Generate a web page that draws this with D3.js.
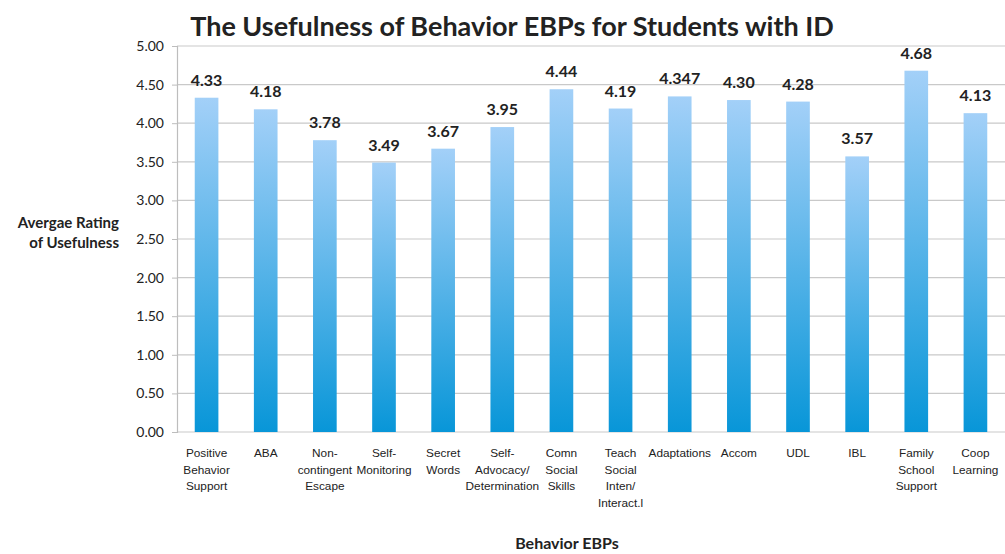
<!DOCTYPE html>
<html>
<head>
<meta charset="utf-8">
<script src="https://cdn.jsdelivr.net/npm/d3@7"></script>
<style>
  body { margin: 0; background: #fff; }
  text { fill: #222; }
</style>
</head>
<body>
<div id="chart"></div>
<script>
/* Usefulness of behavior EBPs - bar chart */

const categories = ["Positive\nBehavior\nSupport", "ABA", "Non-\ncontingent\nEscape", "Self-\nMonitoring",
    "Secret\nWords", "Self-\nAdvocacy/\nDetermination", "Comn\nSocial\nSkills", "Teach\nSocial\nInten/\nInteract.l",
    "Adaptations", "Accom", "UDL", "IBL", "Family\nSchool\nSupport", "Coop\nLearning"];
const values = [4.33, 4.18, 3.78, 3.49, 3.67, 3.95, 4.44, 4.19, 4.347, 4.30, 4.28, 3.57, 4.68, 4.13];
const yTicks = [0, 0.5, 1, 1.5, 2, 2.5, 3, 3.5, 4, 4.5, 5];

const width = 1005, height = 554,
    margin = ({ top: 46, right: 0, bottom: 122, left: 177 });

const svg = d3.select("#chart")
    .append("svg")
    .attr("width", width)
    .attr("height", height);

// gradient for the bars, light on top
const grad = svg.append("defs").append("linearGradient")
    .attr("id", "barGrad")
    .attr("x1", 0).attr("y1", 0).attr("x2", 0).attr("y2", 1);
grad.append("stop").attr("offset", "0%").attr("stop-color", "#a3d0f8");
grad.append("stop").attr("offset", "100%").attr("stop-color", "#0896d8");

let x = d3.scaleBand()
    .domain(d3.range(categories.length))
    .range([margin.left, width - margin.right])
    .paddingInner(0.6)
    .paddingOuter(0.3);

let y = d3.scaleLinear()
    .domain([0, 5])
    .range([height - margin.bottom, margin.top]);

// gridlines
svg.append("g")
    .selectAll("line")
    .data(yTicks)
    .join("line")
    .attr("x1", margin.left)
    .attr("x2", width)
    .attr("y1", d => y(d))
    .attr("y2", d => y(d))
    .attr("stroke", "#c9c9c9")
    .attr("stroke-width", 1.2);

// y axis
let yAxis = svg.append("g")
    .attr("transform", `translate(${margin.left},0)`)
    .call(d3.axisLeft(y).tickValues(yTicks).tickFormat(d3.format(".2f")).tickSize(5).tickPadding(8));
yAxis.select(".domain").attr("stroke", "#bdbdbd").attr("stroke-width", 1.2);
yAxis.selectAll(".tick line").attr("stroke", "#bdbdbd");
yAxis.selectAll(".tick text")
    .attr("font-family", "Lato, 'Open Sans', sans-serif")
    .attr("font-size", 14)
    .attr("fill", "#444");

// bars
svg.append("g")
    .selectAll("rect")
    .data(values)
    .join("rect")
    .attr("x", (d, i) => x(i))
    .attr("y", d => y(d))
    .attr("width", x.bandwidth())
    .attr("height", d => y(0) - y(d))
    .attr("fill", "url(#barGrad)");

// value labels
const fmt = d => {
    let dec = (String(d).split(".")[1] || "").length;
    return d.toFixed(Math.max(2, dec));
};
svg.append("g")
    .selectAll("text")
    .data(values)
    .join("text")
    .attr("x", (d, i) => x(i) + x.bandwidth() / 2)
    .attr("y", d => y(d) - 12)
    .attr("text-anchor", "middle")
    .attr("font-family", "Lato, 'Open Sans', sans-serif")
    .attr("font-weight", "bold")
    .attr("font-size", 16)
    .text(fmt);

// category labels (multi line)
let catG = svg.append("g")
    .selectAll("text")
    .data(categories)
    .join("text")
    .attr("text-anchor", "middle")
    .attr("font-family", "'Liberation Sans', Arial, sans-serif")
    .attr("font-size", 11.8)
    .attr("fill", "#333")
    .attr("transform", (d, i) => `translate(${x(i) + x.bandwidth() / 2},${height - margin.bottom + 25})`);
catG.selectAll("tspan")
    .data(d => d.split("\n"))
    .join("tspan")
    .attr("x", 0)
    .attr("dy", (d, i) => i === 0 ? 0 : 16.5)
    .text(d => d);

// title
svg.append("text")
    .attr("x", 512)
    .attr("y", 36)
    .attr("text-anchor", "middle")
    .attr("font-family", "Lato, 'Open Sans', sans-serif")
    .attr("font-weight", "bold")
    .attr("font-size", 27)
    .text("The Usefulness of Behavior EBPs for Students with ID");

// y label
svg.append("text")
    .attr("x", 119)
    .attr("y", 228)
    .attr("text-anchor", "end")
    .attr("font-family", "Lato, 'Open Sans', sans-serif")
    .attr("font-weight", "bold")
    .attr("font-size", 15)
    .selectAll("tspan")
    .data(["Avergae Rating", "of Usefulness"])
    .join("tspan")
    .attr("x", 119)
    .attr("dy", (d, i) => i === 0 ? 0 : 20)
    .text(d => d);

// x label
svg.append("text")
    .attr("x", 567)
    .attr("y", 549)
    .attr("text-anchor", "middle")
    .attr("font-family", "Lato, 'Open Sans', sans-serif")
    .attr("font-weight", "bold")
    .attr("font-size", 16)
    .text("Behavior EBPs");
</script>
</body>
</html>
